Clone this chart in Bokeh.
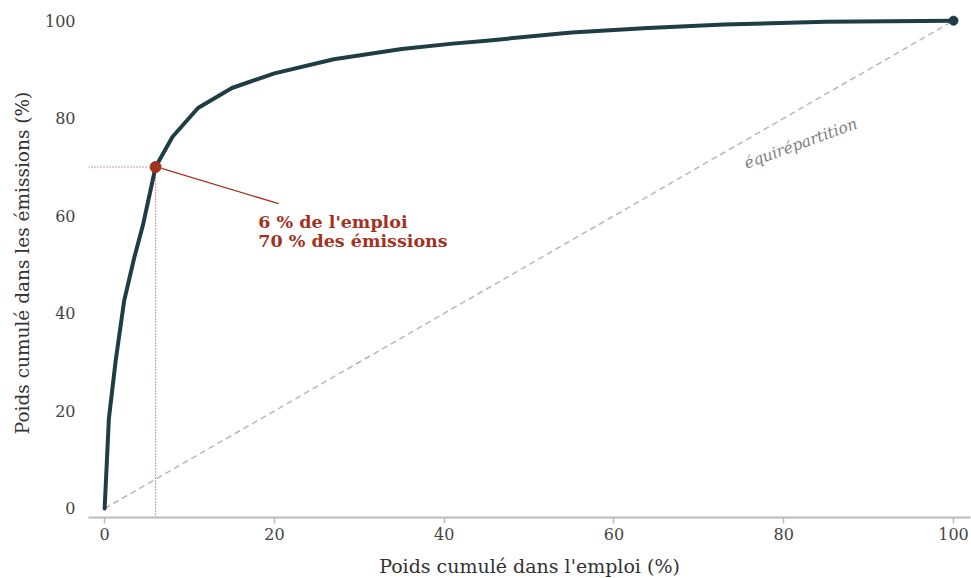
from bokeh.plotting import figure
from bokeh.models import Range1d, FixedTicker, ColumnDataSource
from bokeh.core.properties import value
from bokeh.embed import file_html
from bokeh.resources import INLINE

# Cumulative share of employment (%) vs cumulative share of emissions (%)
emploi = [0, 0.5, 1.3, 2.3, 3.5, 4.5, 6, 8, 11, 15, 20, 27, 35, 41, 45, 55, 64, 73, 85, 100]
emissions = [0, 18.4, 30.3, 42.6, 51.5, 58, 70, 76.2, 82.1, 86.2, 89.2, 92.1, 94.2, 95.3, 95.9, 97.6, 98.5, 99.2, 99.8, 100]

equi_x = [0, 100]
equi_y = [0, 100]

highlight_x = 6
highlight_y = 70
annot_lines = ["6 % de l'emploi", "70 % des émissions"]

ticks = [0, 20, 40, 60, 80, 100]

DARK = "#1f3d44"
RED = "#a3321d"
SERIF = "DejaVu Serif"

p = figure(width=971, height=578, output_backend="svg", toolbar_location=None,
           x_range=Range1d(-1.9, 102.0), y_range=Range1d(-1.85, 102.5),
           min_border_left=88, min_border_right=1, min_border_top=8, min_border_bottom=0,
           frame_width=882, frame_height=509)
p.outline_line_color = None
p.grid.visible = False
p.background_fill_color = "white"

# equal-distribution diagonal
p.line(equi_x, equi_y, line_color="#b8b8b8", line_width=1.5, line_dash="6 4")
p.text(x=[82], y=[74.8], text=["équirépartition"], angle=0.35,
       text_font=value(SERIF), text_font_style="italic", text_font_size="15.5px",
       text_color="#808080", text_align="center", text_baseline="middle")

# dotted guides
p.line([-1.9, highlight_x - 0.8], [highlight_y, highlight_y], line_color=RED, line_width=1, line_dash="1 2")
p.line([highlight_x, highlight_x], [-1.85, highlight_y - 1.5], line_color=RED, line_width=1, line_dash="1 2")

# concentration curve
p.line(emploi, emissions, line_color=DARK, line_width=4, line_join="round", line_cap="round")
p.scatter([emploi[-1]], [emissions[-1]], size=9, fill_color=DARK, line_color=DARK)

# highlight
p.line([highlight_x + 0.7, 20.5], [highlight_y - 0.3, 62.5], line_color=RED, line_width=1.3)
p.scatter([highlight_x], [highlight_y], size=11, fill_color=RED, line_color=RED)
src = ColumnDataSource(dict(x=[18.1, 18.1], y=[58.7, 54.8], t=annot_lines))
p.text(x="x", y="y", text="t", source=src, text_font=value(SERIF), text_font_style="bold",
       text_font_size="17.5px", text_color=RED, text_baseline="alphabetic", text_align="left")

# axes
p.xaxis.ticker = FixedTicker(ticks=ticks)
p.yaxis.ticker = FixedTicker(ticks=ticks)
p.xaxis.axis_label = "Poids cumulé dans l'emploi (%)"
p.yaxis.axis_label = "Poids cumulé dans les émissions (%)"
for ax in (p.xaxis, p.yaxis):
    ax.major_label_text_font = SERIF
    ax.major_label_text_font_size = "16px"
    ax.major_label_text_color = "#444444"
    ax.axis_label_text_font = SERIF
    ax.axis_label_text_font_style = "normal"
    ax.axis_label_text_color = "#333333"
    ax.minor_tick_line_color = None

p.xaxis.axis_label_text_font_size = "19px"
p.yaxis.axis_label_text_font_size = "18.5px"

p.xaxis.axis_line_color = "#bbbbbb"
p.xaxis.axis_line_width = 2
p.xaxis.major_tick_line_color = "#bbbbbb"
p.xaxis.major_tick_line_width = 1.5
p.xaxis.major_tick_out = 6
p.xaxis.major_tick_in = 0
p.xaxis.major_label_standoff = 4
p.xaxis.axis_label_standoff = 12

p.yaxis.axis_line_color = None
p.yaxis.major_tick_line_color = None
p.yaxis.major_label_standoff = 7
p.yaxis.axis_label_standoff = 9

open("out.html", "w").write(file_html(p, INLINE))
